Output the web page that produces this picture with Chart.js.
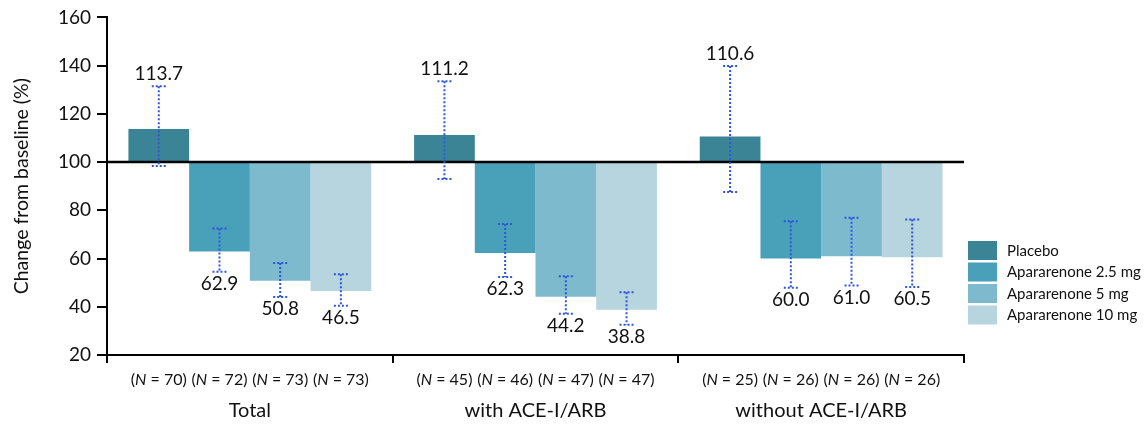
<!DOCTYPE html>
<html>
<head>
<meta charset="utf-8">
<script src="https://cdn.jsdelivr.net/npm/chart.js@4.4.1/dist/chart.umd.min.js"></script>
<style>
  html, body { margin: 0; padding: 0; background: #ffffff; }
  #wrap { width: 1146px; height: 424px; }
</style>
</head>
<body>
<div id="wrap"><canvas id="c" width="1146" height="424"></canvas></div>
<script>
// ---- data ----
const categories = ['Total', 'with ACE-I/ARB', 'without ACE-I/ARB'];
const seriesNames = ['Placebo', 'Apararenone 2.5 mg', 'Apararenone 5 mg', 'Apararenone 10 mg'];
const baseline = 100;

const placebo  = [113.7, 111.2, 110.6];
const apa25    = [62.9, 62.3, 60.0];
const apa5     = [50.8, 44.2, 61.0];
const apa10    = [46.5, 38.8, 60.5];

const placeboLow  = [98.4, 93.0, 87.6];
const placeboHigh = [131.5, 133.5, 139.8];
const apa25Low    = [54.5, 52.3, 47.9];
const apa25High   = [72.5, 74.3, 75.5];
const apa5Low     = [44.1, 37.1, 48.8];
const apa5High    = [58.1, 52.7, 76.9];
const apa10Low    = [40.4, 32.5, 48.2];
const apa10High   = [53.5, 46.0, 76.2];

const placeboN = [70, 45, 25];
const apa25N   = [72, 46, 26];
const apa5N    = [73, 47, 26];
const apa10N   = [73, 47, 26];

const yTicks = [20, 40, 60, 80, 100, 120, 140, 160];

// ---- styling ----
const colors = ['#3a8496', '#48a1b9', '#7ebace', '#b7d5df'];
const FONT = 'Lato, "Open Sans", sans-serif';

const values = [placebo, apa25, apa5, apa10];
const lows = [placeboLow, apa25Low, apa5Low, apa10Low];
const highs = [placeboHigh, apa25High, apa5High, apa10High];
const ns = [placeboN, apa25N, apa5N, apa10N];

const datasets = values.map((vals, i) => ({
  label: seriesNames[i],
  data: vals.map(v => [baseline, v]),
  backgroundColor: colors[i],
  borderWidth: 0,
  categoryPercentage: 0.85,
  barPercentage: 1.0,
  errLow: lows[i],
  errHigh: highs[i],
  nCounts: ns[i],
  rawVals: vals
}));

const overlayPlugin = {
  id: 'overlay',
  afterDatasetsDraw(chart) {
    const ctx = chart.ctx;
    const y = chart.scales.y;
    const area = chart.chartArea;
    ctx.save();
    // baseline line at 100
    const y100 = y.getPixelForValue(baseline);
    ctx.strokeStyle = '#000';
    ctx.lineWidth = 2.5;
    ctx.beginPath();
    ctx.moveTo(area.left, y100);
    ctx.lineTo(area.right, y100);
    ctx.stroke();

    // error bars + value labels
    chart.data.datasets.forEach((ds, di) => {
      const meta = chart.getDatasetMeta(di);
      meta.data.forEach((bar, j) => {
        const x = bar.x;
        const yl = y.getPixelForValue(ds.errLow[j]);
        const yh = y.getPixelForValue(ds.errHigh[j]);
        ctx.strokeStyle = '#2f55dc';
        ctx.lineWidth = 2;
        ctx.setLineDash([2, 2]);
        ctx.beginPath();
        ctx.moveTo(x, yh); ctx.lineTo(x, yl);
        ctx.moveTo(x - 7, yh); ctx.lineTo(x + 7, yh);
        ctx.moveTo(x - 7, yl); ctx.lineTo(x + 7, yl);
        ctx.stroke();
        ctx.setLineDash([]);

        ctx.fillStyle = '#111';
        ctx.font = '19px ' + FONT;
        ctx.textAlign = 'center';
        ctx.textBaseline = 'middle';
        const v = ds.rawVals[j];
        const txt = v.toFixed(1);
        if (v >= baseline) {
          ctx.fillText(txt, x, yh - 12);
        } else {
          ctx.fillText(txt, x, yl + 12);
        }
      });
    });
    ctx.restore();
  },
  afterDraw(chart) {
    const ctx = chart.ctx;
    ctx.save();
    // N labels under each bar
    const nY = 380;
    chart.data.datasets.forEach((ds, di) => {
      const meta = chart.getDatasetMeta(di);
      meta.data.forEach((bar, j) => {
        const parts = [
          { t: '(', f: '16px ' + FONT },
          { t: 'N', f: 'italic 16px ' + FONT },
          { t: ' = ' + ds.nCounts[j] + ')', f: '16px ' + FONT }
        ];
        let w = 0;
        parts.forEach(p => { ctx.font = p.f; p.w = ctx.measureText(p.t).width; w += p.w; });
        let x = bar.x - w / 2;
        ctx.fillStyle = '#111';
        ctx.textAlign = 'left';
        ctx.textBaseline = 'middle';
        parts.forEach(p => { ctx.font = p.f; ctx.fillText(p.t, x, nY); x += p.w; });
      });
    });

    // legend
    const lx = 968, boxW = 29, boxH = 19;
    const tops = [241, 262.5, 284, 305.5];
    ctx.font = '15px ' + FONT;
    ctx.textAlign = 'left';
    ctx.textBaseline = 'middle';
    chart.data.datasets.forEach((ds, di) => {
      ctx.fillStyle = ds.backgroundColor;
      ctx.fillRect(lx, tops[di], boxW, boxH);
      ctx.fillStyle = '#111';
      ctx.fillText(ds.label, lx + 39, tops[di] + boxH / 2 + 0.5);
    });
    ctx.restore();
  }
};

new Chart(document.getElementById('c'), {
  type: 'bar',
  data: { labels: categories, datasets },
  options: {
    responsive: false,
    animation: false,
    devicePixelRatio: 1,
    layout: { padding: { top: 17, right: 182, left: 0, bottom: 0 } },
    plugins: {
      legend: { display: false },
      tooltip: { enabled: false }
    },
    scales: {
      x: {
        offset: true,
        grid: {
          display: true, offset: true, drawOnChartArea: false, drawTicks: true,
          tickLength: 8, color: '#000', lineWidth: 2
        },
        border: { display: true, color: '#000', width: 2 },
        ticks: { color: '#111', font: { family: FONT, size: 20 }, padding: 36, maxRotation: 0 },
        afterFit(scale) { scale.height = 69; }
      },
      y: {
        min: 20, max: 160,
        afterBuildTicks(scale) { scale.ticks = yTicks.map(v => ({ value: v })); },
        grid: {
          display: true, drawOnChartArea: false, drawTicks: true,
          tickLength: 10, color: '#000', lineWidth: 2
        },
        border: { display: true, color: '#000', width: 2 },
        ticks: { color: '#111', font: { family: FONT, size: 19 }, padding: 6 },
        title: {
          display: true, text: 'Change from baseline (%)', color: '#111',
          font: { family: FONT, size: 19.5 }, padding: { top: 10, bottom: 0 }
        },
        afterFit(scale) { scale.width = 107; }
      }
    }
  },
  plugins: [overlayPlugin]
});
</script>
</body>
</html>
